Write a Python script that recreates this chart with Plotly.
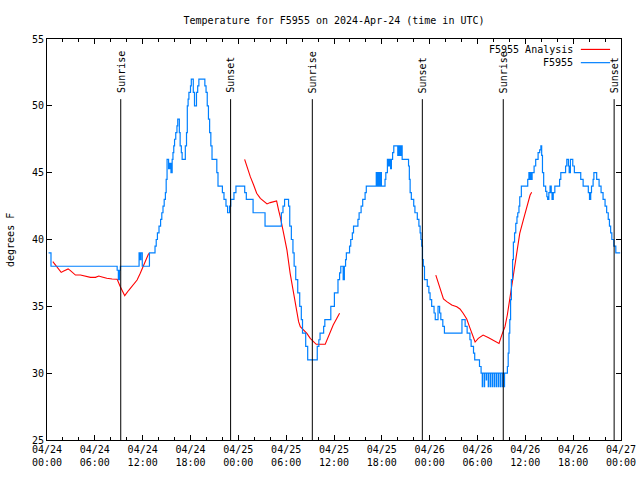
import pandas as pd
import plotly.graph_objects as go

BASE = pd.Timestamp("2024-04-24 00:00")

# Station observations (hours since 2024-04-24 00:00 UTC, degrees F), drawn as steps
obs_hours = [0.2, 0.5, 8.8, 8.95, 9.1, 9.2, 11.55, 11.7, 11.78, 11.95, 12.85, 13.55, 13.7, 13.85,
             14.05, 14.25, 14.4, 14.55, 14.7, 14.85, 14.95, 15.06, 15.25, 15.4, 15.55, 15.7, 15.8,
             15.9, 16.0, 16.15, 16.3, 16.4, 16.6, 16.7, 16.85, 16.95, 17.35, 17.5, 17.6, 17.7, 17.8,
             18.0, 18.1, 18.35, 18.5, 18.75, 18.9, 19.05, 19.8, 19.95, 20.1, 20.25, 20.4, 20.55,
             20.7, 21.3, 21.45, 22.0, 22.2, 22.45, 22.65, 22.9, 23.05, 23.45, 23.7, 24.8, 25.0,
             25.85, 27.35, 29.4, 29.6, 29.8, 30.3, 30.45, 30.65, 30.85, 31.0, 31.2, 31.45, 31.7,
             31.9, 32.05, 32.45, 32.7, 33.9, 34.1, 34.25, 34.7, 34.85, 35.6, 36.05, 36.5, 36.7,
             36.85, 37.15, 37.3, 37.45, 37.55, 37.95, 38.1, 38.3, 38.45, 39.0, 39.15, 39.4, 39.6,
             39.9, 40.05, 41.3, 41.45, 41.55, 41.7, 41.8, 41.95, 42.4, 42.5, 42.7, 42.85, 43.0,
             43.1, 43.2, 43.35, 43.5, 44.0, 44.15, 44.3, 44.4, 44.55, 45.35, 45.45, 45.55, 45.7,
             46.0, 46.15, 46.45, 46.65, 46.8, 46.9, 47.0, 47.1, 47.2, 47.35, 47.7, 47.9, 48.05,
             48.25, 48.55, 48.7, 49.05, 49.25, 49.4, 49.65, 49.85, 52.05, 52.45, 52.7, 53.05,
             53.2, 53.5, 53.65, 54.25, 54.45,
             54.6, 54.64, 54.85, 54.89, 55.1, 55.14, 55.35, 55.39, 55.6, 55.64, 55.85, 55.89,
             56.1, 56.14, 56.35, 56.39, 56.6, 56.64, 56.85, 56.89, 57.1, 57.14, 57.35, 57.39,
             57.75, 57.85, 57.95, 58.05, 58.15, 58.25, 58.4, 58.5, 58.65, 58.8, 58.95,
             59.05, 59.2, 59.3, 59.5, 60.3, 60.45, 60.55, 60.65, 60.75, 60.85, 61.1, 61.3, 61.6,
             61.8, 61.95, 62.05, 62.15, 62.3, 62.55, 62.7, 62.8, 62.95, 63.1, 63.25, 63.35, 63.5,
             63.7, 64.3, 64.45, 65.05, 65.2, 65.4, 65.5, 65.65, 65.95, 66.15, 66.95, 67.25, 67.9,
             68.05, 68.2, 68.3, 68.5, 68.6, 68.95, 69.25, 69.5, 69.75, 70.0, 70.2, 70.4, 70.55,
             70.7, 70.85, 71.1, 71.35, 71.9]
obs_temps = [39, 38, 37.7, 37, 37.7, 38, 39, 38.5, 39, 38, 39, 39.5, 40, 40.5,
             41, 41.5, 42, 42.5, 43, 43.5, 44.5, 46, 45.3, 45.7, 45, 46, 46.5,
             47, 47.5, 48, 48.5, 49, 48, 47, 46.5, 46, 47, 48, 50, 50.5, 51,
             51.5, 52, 51, 50, 51, 51.5, 52, 51.5, 51, 50, 49, 48, 47,
             46, 45, 44, 43.5, 43, 42.5, 42, 42.5, 43, 43.5, 44, 43.5, 43,
             42, 41, 42, 42.5, 43, 42.5, 41, 40, 39, 38, 37, 36, 35,
             34, 33, 32, 31, 32, 32.5, 33, 33.5, 34, 35, 36, 37, 37.5,
             38, 37, 38, 38.5, 39, 39.5, 40, 40.5, 41, 41.5, 42, 42.5, 43,
             43.5, 44, 45, 44, 45, 44, 45, 44, 44.5, 45, 46, 45.5, 46,
             45.3, 46, 46.5, 47, 46.3, 47, 46.3, 47, 46, 45.5, 44.5, 43.5, 43,
             42.5, 42, 41.5, 41, 40.5, 40, 39.5, 38.5, 38, 37, 36.5, 36, 35.5,
             35, 34.5, 34, 35, 34.5, 34, 33.5, 33, 34, 33.5, 33, 32.5,
             32, 31.5, 31, 30.5, 30,
             29, 30, 29, 30, 29.5, 30, 29, 30, 29, 30, 29, 30,
             29, 30, 29, 30, 29, 30, 29, 30, 29, 30, 29, 30,
             30.5, 31.5, 33, 34, 35.5, 37, 38.5, 39.8, 40.5, 41.2, 41.7,
             42, 42.5, 43.2, 44, 44.5, 45, 44.5, 45, 44.5, 45, 45.5, 46, 46.5,
             46.7, 47, 46.3, 45, 44, 43.6, 43.2, 43, 43.5, 44, 43.5, 43, 43.5,
             44, 44.5, 45, 45.5, 46, 45.5, 45, 46, 45.5, 45, 44.5, 44, 43.5,
             43, 43.5, 44, 44.5, 45, 44.5, 44, 43.5, 43, 42.5, 42, 41.5, 41,
             40.5, 40, 39.5, 39, 39]

# Analysis (three forecast windows)
analysis_hours_1 = [0.73, 1.27, 1.78, 2.1, 2.65, 2.94, 3.57, 4.2, 4.9, 5.45, 6.08, 6.5, 6.9, 7.5,
                    8.17, 8.8, 9.2, 9.75, 10.25, 10.88, 11.3, 11.7, 12.05, 12.35, 12.76]
analysis_temps_1 = [38.34, 37.97, 37.54, 37.64, 37.8, 37.67, 37.34, 37.34, 37.27, 37.17, 37.17,
                    37.27, 37.2, 37.1, 37.05, 37.03, 36.47, 35.8, 36.2, 36.67, 36.97, 37.47, 38.0,
                    38.47, 38.96]
analysis_hours_2 = [24.79, 25.08, 25.5, 25.92, 26.3, 26.76, 27.2, 27.6, 28.0, 28.4, 28.8, 29.05,
                    29.26, 29.68, 30.1, 30.5, 30.73, 30.93, 31.14, 31.35, 31.56, 31.77, 32.2, 32.6,
                    33.02, 33.44, 33.77, 34.9, 35.1, 35.53, 35.9, 36.36, 36.7]
analysis_temps_2 = [46.0, 45.45, 44.7, 44.08, 43.46, 43.08, 42.83, 42.66, 42.76, 42.83, 42.88,
                    42.2, 41.7, 40.46, 39.2, 37.47, 36.72, 35.97, 35.22, 34.48, 33.85, 33.48,
                    33.23, 32.98, 32.6, 32.36, 32.16, 32.16, 32.48, 33.1, 33.6, 34.1, 34.48]
analysis_hours_3 = [48.77, 49.1, 49.39, 49.73, 50.15, 50.77, 51.4, 51.8, 52.2, 52.65, 53.07, 53.4,
                    53.7, 54.1, 54.7, 55.4, 56.0, 56.7, 57.04, 57.45, 57.74, 57.99, 58.3, 58.5,
                    58.7, 59.04, 59.3, 59.75, 60.17, 60.4, 60.6, 60.8]
analysis_temps_3 = [37.34, 36.72, 36.1, 35.55, 35.35, 35.1, 34.97, 34.8, 34.48, 34.05, 33.35,
                    32.73, 32.33, 32.6, 32.85, 32.65, 32.48, 32.23, 32.85, 33.48, 34.35, 35.35,
                    36.35, 37.22, 37.97, 39.2, 40.46, 41.46, 42.46, 42.96, 43.33, 43.53]

sun_event_hours = [9.25, 23.03, 33.28, 47.08, 57.23, 71.14]
sun_event_labels = ["Sunrise", "Sunset", "Sunrise", "Sunset", "Sunrise", "Sunset"]

y_range = [25, 55]
x_range = ["2024-04-24 00:00", "2024-04-27 00:00"]


def to_time(hours):
    return BASE + pd.to_timedelta(hours, unit="h")


FONT = "DejaVu Sans Mono"
RED = "#ff0000"
BLUE = "#0080ff"

fig = go.Figure()
for h, t in [(analysis_hours_1, analysis_temps_1), (analysis_hours_2, analysis_temps_2),
             (analysis_hours_3, analysis_temps_3)]:
    fig.add_trace(go.Scatter(x=to_time(h), y=t, mode="lines", name="F5955 Analysis",
                             line=dict(color=RED, width=1.1), showlegend=False))
fig.add_trace(go.Scatter(x=to_time(obs_hours), y=obs_temps, mode="lines", name="F5955",
                         line=dict(color=BLUE, width=1.2, shape="hv"), showlegend=False))

for h, lab in zip(sun_event_hours, sun_event_labels):
    t = to_time(h)
    fig.add_shape(type="line", xref="x", yref="paper", x0=t, x1=t, y0=0, y1=0.85,
                  line=dict(color="black", width=1))
    fig.add_annotation(x=t, xref="x", y=0.86, yref="paper", text=lab, textangle=-90,
                       showarrow=False, xanchor="center", yanchor="bottom",
                       font=dict(family=FONT, size=10, color="black"))

# gnuplot-style key (text left of the sample line)
for yp, name, col in [(0.974, "F5955 Analysis", RED), (0.941, "F5955", BLUE)]:
    fig.add_annotation(x=0.919, xref="paper", y=yp, yref="paper", text=name, showarrow=False,
                       xanchor="right", yanchor="middle",
                       font=dict(family=FONT, size=10, color="black"))
    fig.add_shape(type="line", xref="paper", yref="paper", x0=0.930, x1=0.981, y0=yp, y1=yp,
                  line=dict(color=col, width=1.2))

fig.add_annotation(x=-0.0636, xref="paper", y=0.5, yref="paper", text="degrees F",
                   textangle=-90, showarrow=False, xanchor="center", yanchor="middle",
                   font=dict(family=FONT, size=10, color="black"))

fig.update_layout(
    width=640, height=480,
    margin=dict(l=47, r=19, t=39, b=40, autoexpand=False),
    paper_bgcolor="white", plot_bgcolor="white",
    font=dict(family=FONT, size=10, color="black"),
    title=dict(text="Temperature for F5955 on 2024-Apr-24 (time in UTC)",
               x=0.5, xref="paper", xanchor="center", y=1 - 20 / 480, yref="container",
               yanchor="middle", font=dict(family=FONT, size=10, color="black")),
    showlegend=False,
)
fig.update_xaxes(range=x_range, type="date", tick0="2024-04-24", dtick=6 * 3600 * 1000,
                 tickformat="%m/%d<br>%H:%M", ticks="inside", ticklen=5, tickcolor="black",
                 showline=True, linecolor="black", linewidth=1, mirror="allticks",
                 showgrid=False, zeroline=False, automargin=False,
                 minor=dict(dtick=2 * 3600 * 1000, ticks="inside", ticklen=3,
                            tickcolor="black", showgrid=False),
                 tickfont=dict(family=FONT, size=10, color="black"))
fig.update_yaxes(range=y_range, dtick=5, ticks="inside", ticklen=5, tickcolor="black",
                 showline=True, linecolor="black", linewidth=1, mirror="allticks",
                 showgrid=False, zeroline=False, automargin=False,
                 tickfont=dict(family=FONT, size=10, color="black"))

fig.write_html("out.html", config={"displayModeBar": False},
               post_script="document.body.style.margin='0';document.body.style.padding='0';")
